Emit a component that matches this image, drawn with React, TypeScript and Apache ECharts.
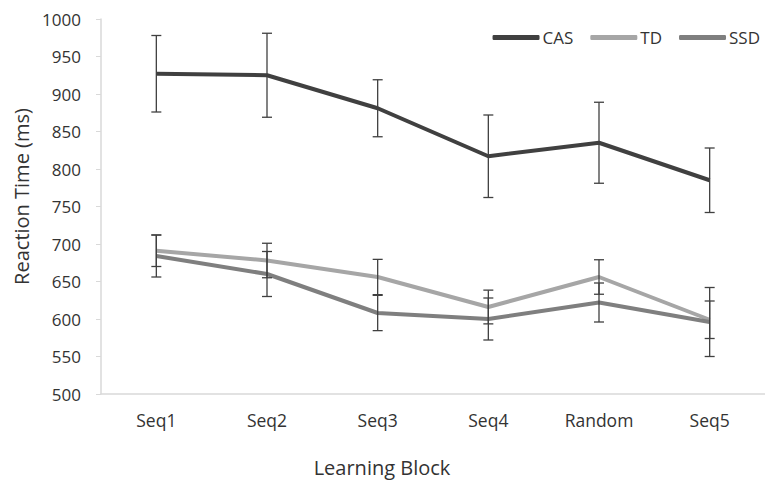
import React, { useEffect, useRef } from "react";
import * as echarts from "echarts";

const categories = ["Seq1", "Seq2", "Seq3", "Seq4", "Random", "Seq5"];
const casValues = [927, 925, 881, 817, 835, 785];
const casErr = [51, 56, 38, 55, 54, 43];
const tdValues = [691, 678, 656, 616, 656, 599];
const tdErr = [21, 23, 23.5, 22.5, 23, 25];
const ssdValues = [684, 660, 608, 600, 622, 596];
const ssdErr = [28, 30, 23.5, 28, 26, 46];

const FONT = "Open Sans";
const TEXT = "#333333";
const AXIS = "#d9d9d9";

function errData(vals: number[], errs: number[]) {
  return vals.map((v, i) => [i, v - errs[i], v + errs[i]]);
}

const renderErr = (params: any, api: any) => {
  const x = api.value(0);
  const top = api.coord([x, api.value(2)]);
  const bot = api.coord([x, api.value(1)]);
  const hw = 5;
  const style = { stroke: "#404040", lineWidth: 1.3 };
  return {
    type: "group",
    children: [
      { type: "line", shape: { x1: top[0], y1: top[1], x2: bot[0], y2: bot[1] }, style },
      { type: "line", shape: { x1: top[0] - hw, y1: top[1], x2: top[0] + hw, y2: top[1] }, style },
      { type: "line", shape: { x1: bot[0] - hw, y1: bot[1], x2: bot[0] + hw, y2: bot[1] }, style },
    ],
  };
};

export default function App() {
  const ref = useRef<HTMLDivElement>(null);
  useEffect(() => {
    const chart = echarts.init(ref.current!, null, { renderer: "svg" });
    const lineSeries = (name: string, data: number[], color: string) => ({
      name,
      type: "line",
      data,
      symbol: "none",
      lineStyle: { color, width: 4 },
      itemStyle: { color },
      z: 2,
    });
    const errSeries = (name: string, vals: number[], errs: number[]) => ({
      name,
      type: "custom",
      renderItem: renderErr,
      data: errData(vals, errs),
      encode: { x: 0, y: [1, 2] },
      z: 3,
    });
    chart.setOption({
      animation: false,
      textStyle: { fontFamily: FONT },
      grid: { left: 101, right: 0, top: 19, bottom: 88 },
      legend: {
        data: ["CAS", "TD", "SSD"],
        right: 0,
        top: 24,
        icon: "roundRect",
        itemWidth: 47,
        itemHeight: 5,
        itemGap: 17,
        textStyle: { fontFamily: FONT, fontSize: 17, color: TEXT, padding: [0, 0, 0, -2] },
      },
      xAxis: {
        type: "category",
        data: categories,
        boundaryGap: true,
        axisLine: { lineStyle: { color: AXIS, width: 1.5 } },
        axisTick: { show: false },
        axisLabel: { color: TEXT, fontSize: 17.5, margin: 17, fontFamily: FONT },
        name: "Learning Block",
        nameLocation: "middle",
        nameGap: 63,
        nameTextStyle: {
          color: TEXT,
          fontSize: 20,
          fontFamily: FONT,
          padding: [0, 102, 0, 0],
        },
      },
      yAxis: {
        type: "value",
        min: 500,
        max: 1000,
        interval: 50,
        axisLine: { show: true, lineStyle: { color: AXIS, width: 1.5 } },
        axisTick: { show: true, length: 5, lineStyle: { color: AXIS } },
        splitLine: { show: false },
        axisLabel: {
          color: TEXT,
          fontSize: 17,
          margin: 20,
          fontFamily: FONT,
          formatter: (v: number) => String(v),
        },
        name: "Reaction Time (ms)",
        nameLocation: "middle",
        nameRotate: 90,
        nameGap: 68,
        nameTextStyle: {
          color: TEXT,
          fontSize: 20,
          fontFamily: FONT,
          padding: [0, 0, 0, 20],
        },
      },
      series: [
        lineSeries("CAS", casValues, "#404040"),
        lineSeries("TD", tdValues, "#a6a6a6"),
        lineSeries("SSD", ssdValues, "#7f7f7f"),
        errSeries("CAS err", casValues, casErr),
        errSeries("TD err", tdValues, tdErr),
        errSeries("SSD err", ssdValues, ssdErr),
      ],
    });
    return () => chart.dispose();
  }, []);
  return (
    <div
      ref={ref}
      style={{ position: "fixed", left: 0, top: 0, width: 765, height: 482, background: "#fff" }}
    />
  );
}
